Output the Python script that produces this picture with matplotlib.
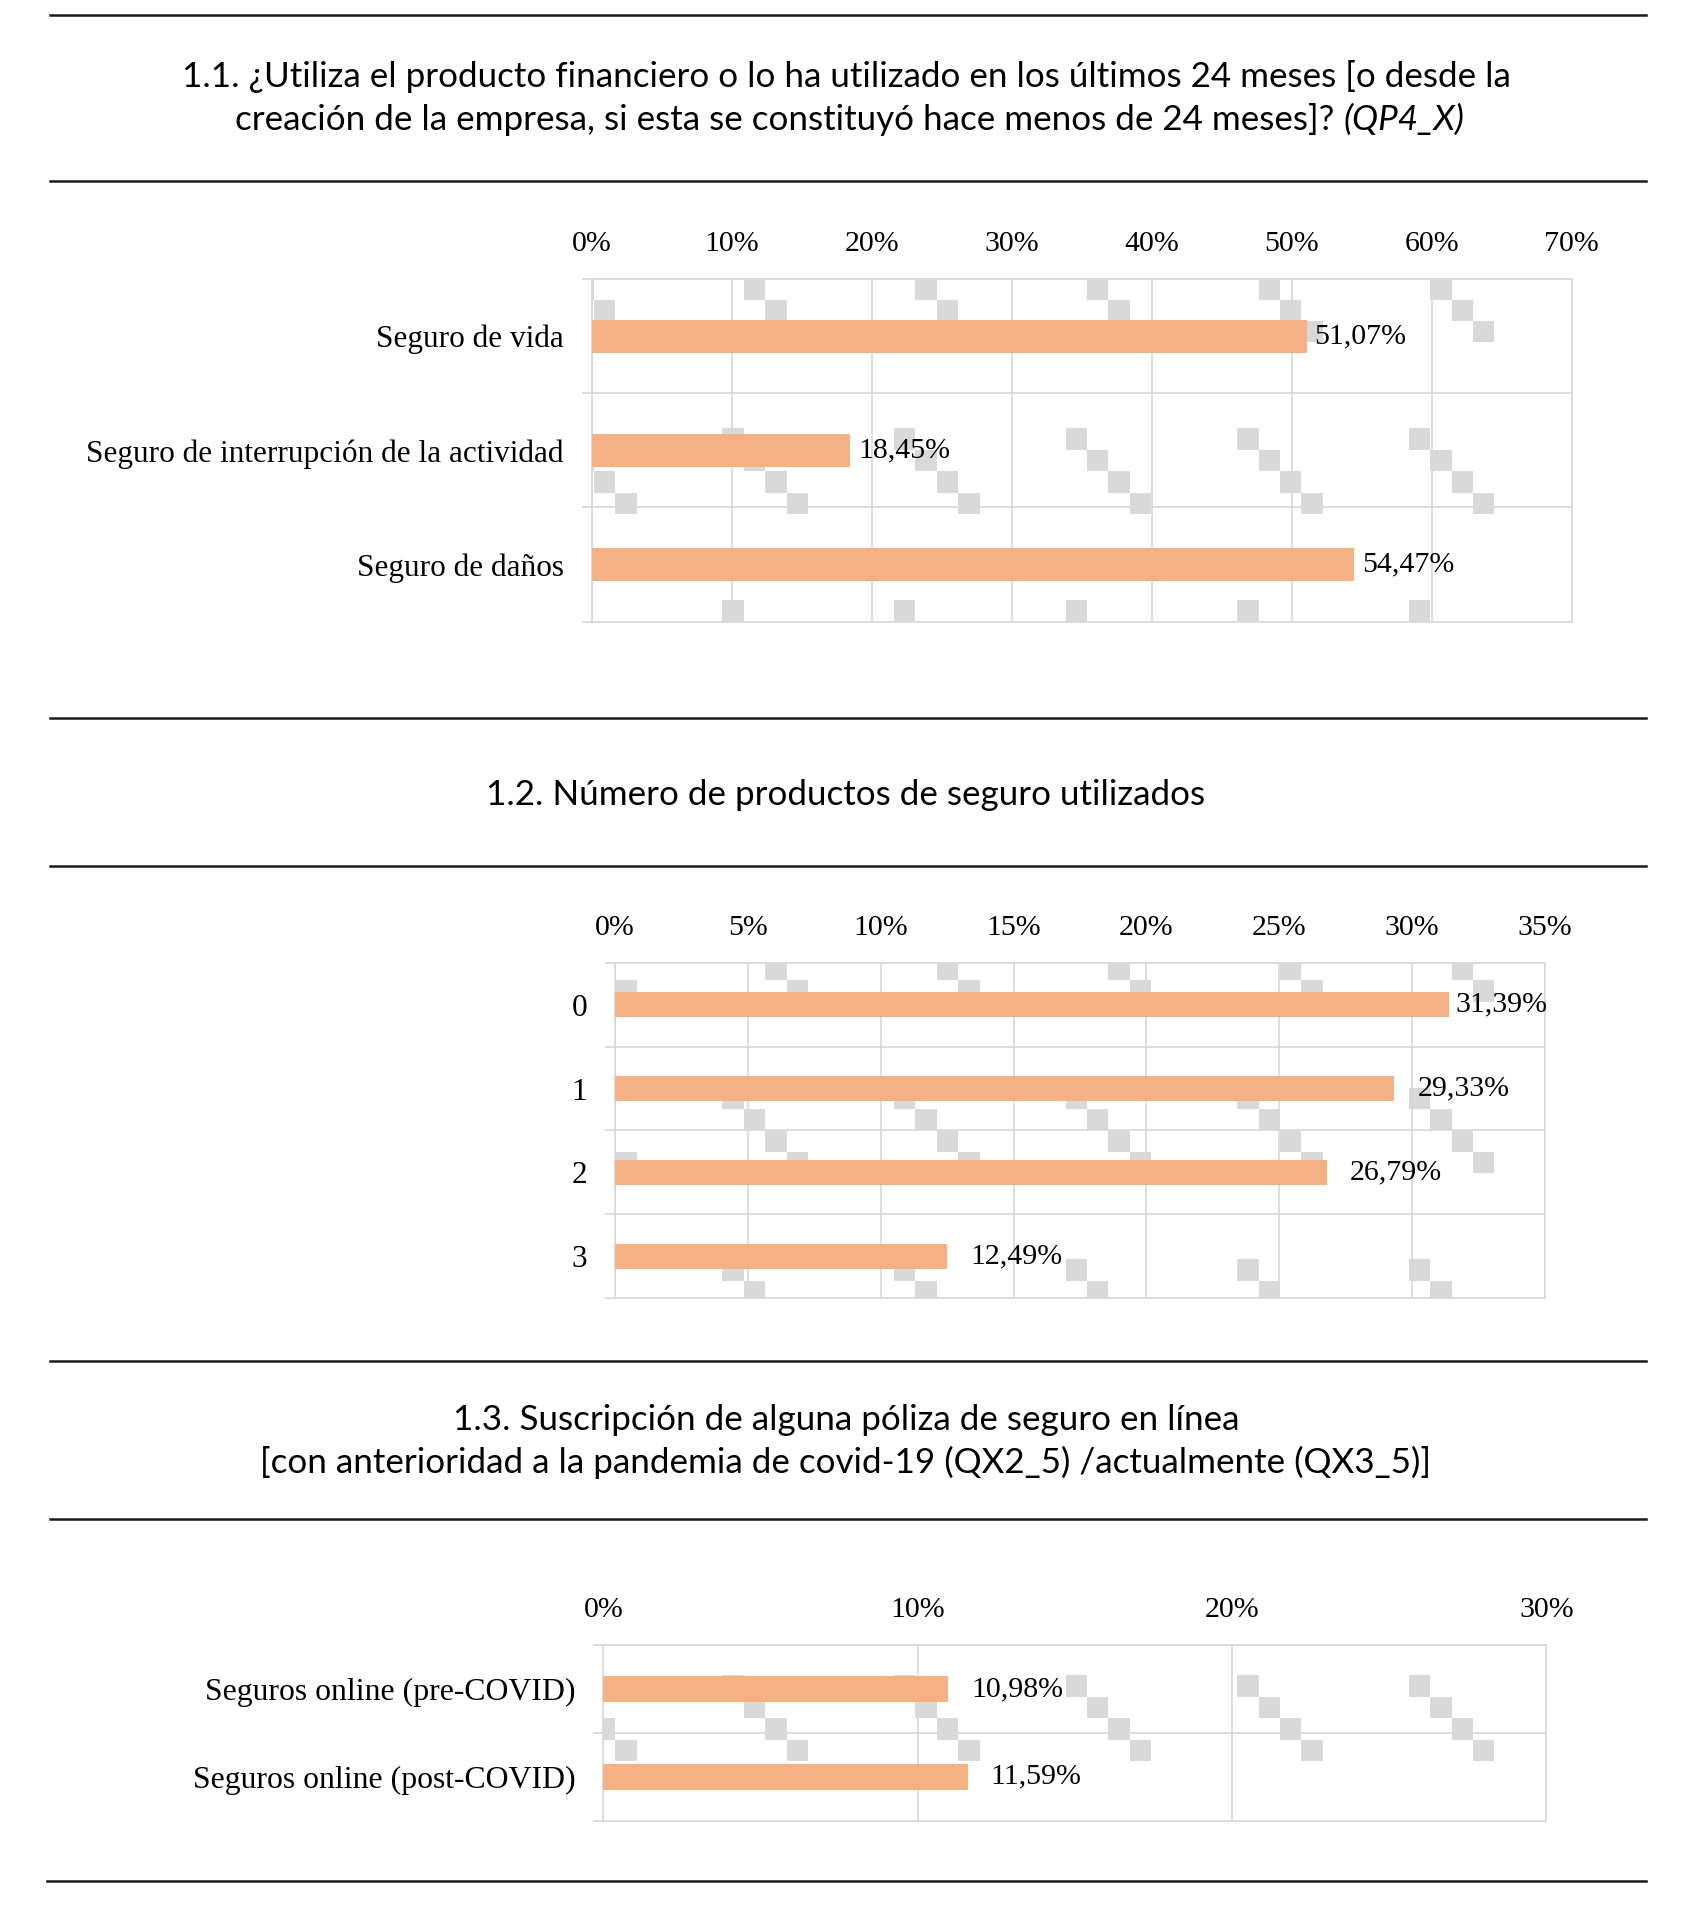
import matplotlib
matplotlib.use("Agg")
import matplotlib.pyplot as plt
from matplotlib.lines import Line2D
from matplotlib.patches import Rectangle
from matplotlib.transforms import Affine2D

W, H, DPI = 1707, 1919, 100
BAR = "#F4B183"
GRID = "#D9D9D9"
INK = "#1a1a1a"
SERIF = "Liberation Serif"
SANS = "Lato"

# --- datos -----------------------------------------------------------------
uso_labels = ["Seguro de vida", "Seguro de interrupción de la actividad", "Seguro de daños"]
uso_values = [51.07, 18.45, 54.47]
uso_ticks = [0, 10, 20, 30, 40, 50, 60, 70]

num_labels = ["0", "1", "2", "3"]
num_values = [31.39, 29.33, 26.79, 12.49]
num_ticks = [0, 5, 10, 15, 20, 25, 30, 35]

online_labels = ["Seguros online (pre-COVID)", "Seguros online (post-COVID)"]
online_values = [10.98, 11.59]
online_ticks = [0, 10, 20, 30]

TITLE_1A = "1.1. ¿Utiliza el producto financiero o lo ha utilizado en los últimos 24 meses [o desde la"
TITLE_1B = "creación de la empresa, si esta se constituyó hace menos de 24 meses]? "
TITLE_1C = "(QP4_X)"
TITLE_2 = "1.2. Número de productos de seguro utilizados"
TITLE_3A = "1.3. Suscripción de alguna póliza de seguro en línea"
TITLE_3B = "[con anterioridad a la pandemia de covid-19 (QX2_5) /actualmente (QX3_5)]"

# patrón gris de fondo (cuadritos en escalera), en píxeles de la imagen
SQ = 21.45
PERIOD = 171.6
PHASE_X = 722.3

fig = plt.figure(figsize=(W / DPI, H / DPI), dpi=DPI)
fig.patch.set_facecolor("white")
renderer = fig.canvas.get_renderer()
px = Affine2D().scale(1 / W, -1 / H).translate(0, 1) + fig.transFigure


def fx(x):
    return x / W


def fy(y):
    return 1 - y / H


def rule(y, x0=50, x1=1646):
    fig.add_artist(Line2D([fx(x0), fx(x1)], [fy(y), fy(y)], color=INK, lw=1.8,
                          transform=fig.transFigure))


def width_px(t):
    return t.get_window_extent(renderer).width


def draw_pattern(ax, box, y_origin):
    x0, y0, x1, y1 = box
    k0 = int((x0 - PHASE_X) // PERIOD) - 1
    k1 = int((x1 - PHASE_X) // PERIOD) + 1
    m0 = int((y0 - y_origin) // PERIOD) - 1
    m1 = int((y1 - y_origin) // PERIOD) + 1
    for k in range(k0, k1 + 1):
        for m in range(m0, m1 + 1):
            ox = PHASE_X + k * PERIOD
            oy = y_origin + m * PERIOD
            for j in range(4):
                r = Rectangle((ox + j * SQ, oy + j * SQ), SQ, SQ, transform=px,
                              facecolor=GRID, edgecolor="none", zorder=1.5)
                ax.add_artist(r)


def draw_panel(box, labels, values, ticks, y_origin, gap, label_size):
    x0, y0, x1, y1 = box
    ax = fig.add_axes([fx(x0), fy(y1), (x1 - x0) / W, (y1 - y0) / H])
    n = len(labels)
    pos = list(range(n))

    draw_pattern(ax, box, y_origin)
    ax.barh(pos, values, height=0.29, color=BAR, zorder=3)

    ax.set_xlim(ticks[0], ticks[-1])
    ax.set_ylim(n - 0.5, -0.5)
    ax.xaxis.tick_top()
    ax.set_xticks(ticks)
    ax.set_xticklabels([f"{t}%" for t in ticks], fontfamily=SERIF, fontsize=21.5)
    ax.tick_params(axis="x", length=0, pad=15.8)
    ax.set_yticks(pos)
    ax.set_yticklabels(labels, fontfamily=SERIF, fontsize=label_size)
    ax.tick_params(axis="y", which="major", length=0, pad=20)
    ax.set_yticks([i - 0.5 for i in range(n + 1)], minor=True)
    ax.tick_params(axis="y", which="minor", length=7.2, width=1.25, color=GRID,
                   direction="out")
    ax.set_axisbelow(True)
    ax.grid(axis="x", which="major", color=GRID, lw=1.25)
    ax.grid(axis="y", which="minor", color=GRID, lw=1.25)
    for s in ax.spines.values():
        s.set_color(GRID)
        s.set_linewidth(1.25)

    scale = (x1 - x0) / (ticks[-1] - ticks[0])
    for p, v in zip(pos, values):
        txt = f"{v:.2f}".replace(".", ",") + "%"
        t = ax.annotate(txt, xy=(v, p), xytext=(gap * 0.72, 0), textcoords="offset points",
                        ha="left", va="center", fontfamily=SERIF, fontsize=21.5,
                        color="black", zorder=5)
        end = x0 + v * scale + gap + width_px(t)
        if end > x1 + 2:
            shift = max(4, gap - (end - x1 - 2))
            t.set_position((shift * 0.72, 0))
    return ax


# --- reglas y títulos --------------------------------------------------------
for y in (14.7, 181, 718, 866, 1361, 1519):
    rule(y)
rule(1881, x0=46.5)

CX = 846
t = fig.text(fx(CX), fy(76.5), TITLE_1A, ha="center", va="center",
             fontfamily=SANS, fontsize=20, color="black")
tsize = 20 * 1326 / width_px(t)
t.set_fontsize(tsize)

for s, y in ((TITLE_2, 794.8), (TITLE_3A, 1419.8), (TITLE_3B, 1462.5)):
    fig.text(fx(CX), fy(y), s, ha="center", va="center", fontfamily=SANS,
             fontsize=tsize, color="black")

a = fig.text(0, fy(119.5), TITLE_1B, ha="left", va="center", fontfamily=SANS,
             fontsize=tsize, color="black")
b = fig.text(0, fy(119.5), TITLE_1C, ha="left", va="center", fontfamily=SANS,
             fontsize=tsize, style="italic", color="black")
wa, wb = width_px(a), width_px(b)
left = CX - (wa + wb) / 2 + 4
a.set_x(fx(left))
b.set_x(fx(left + wa))

# --- gráficos ----------------------------------------------------------------
draw_panel((591.7, 279, 1571.7, 621.7), uso_labels, uso_values, uso_ticks, 428.3, 8, 22.5)
draw_panel((615, 962.7, 1545, 1298.3), num_labels, num_values, num_ticks, 1087.7, 23, 22.5)
draw_panel((603.3, 1645, 1546.3, 1820.7), online_labels, online_values, online_ticks,
           1675.5, 23, 22.9)

fig.savefig("out.png", dpi=DPI, facecolor="white")
